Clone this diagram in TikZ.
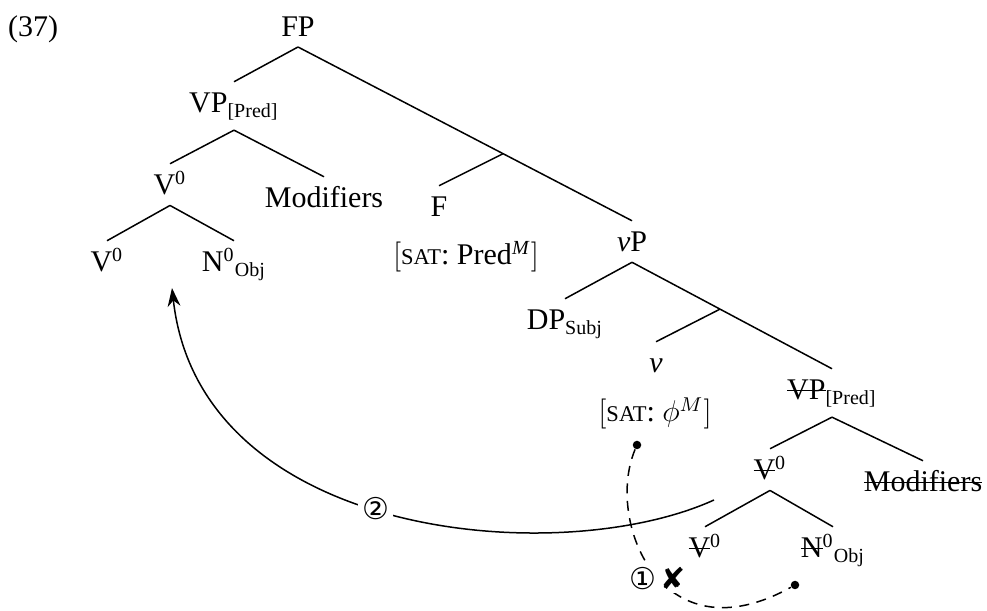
\documentclass[tikz,border=0pt]{standalone}
\usepackage{fontspec}
\setmainfont{Liberation Serif}
\newfontfamily\symbfont{DejaVu Sans}
\usetikzlibrary{positioning,calc,arrows.meta}
\newcommand{\satf}{{\fontsize{9}{10}\selectfont SAT}}
\newsavebox{\strkbox}
\newcommand{\strk}[1]{\sbox{\strkbox}{#1}\rlap{\rule[0.3em]{\wd\strkbox}{0.5pt}}\usebox{\strkbox}}

\begin{document}
\begin{tikzpicture}[
      x=0.4pt, y=-0.4pt,
      font=\fontsize{12}{14}\selectfont,
      tn/.style={anchor=base, inner sep=0pt, outer sep=4pt, text height=8.5pt}, % tree nodes
      feat/.style={anchor=base, inner sep=0pt, outer sep=2pt},
      branch/.style={line width=0.6pt},
      dot/.style={circle, fill, inner sep=0pt, minimum size=3.4pt},
      lbl/.style={fill=white, inner sep=1.5pt, font=\symbfont\fontsize{12}{14}\selectfont}
  ]
      \useasboundingbox (0,0) rectangle (987,611);

      % Nodes - upper tree
      \node (ex) [anchor=base] at (33,37) {(37)};
      \node (fp) [tn] at (298,37) {FP};
      \node (vpp) [tn] at (234,113) {VP\textsubscript{[Pred]}};
      \node (v0a) [tn] at (170,195) {V\textsuperscript{0}};
      \node (mod) [tn] at (324,208) {Modifiers};
      \node (v0b) [tn] at (107,272) {V\textsuperscript{0}};
      \node (n0) [tn] at (234,272) {N\textsuperscript{0}\textsubscript{Obj}};
      \node (f) [tn] at (439,217) {F};
      \node (fsat) [feat] at (466,265) {$\bigl[$\satf: Pred\textsuperscript{\textit{M}}$\bigr]$};
      \node (vp) [tn] at (632,252) {\textit{v}P};
      \node (dp) [tn] at (565,330) {DP\textsubscript{Subj}};
      \node (nu) [tn] at (656,373) {\textit{v}};
      \node (phisat) [feat] at (655,422) {$\bigl[$\satf: $\phi^{M}\bigr]$};

      % Nodes - lower copy (struck out)
      \node (vps) [tn] at (832,400) {\strk{VP}\textsubscript{[Pred]}};
      \node (v0s) [tn] at (770,480) {\strk{V}\textsuperscript{0}};
      \node (mods) [tn] at (923,492) {\strk{Modifiers}};
      \node (v0bs) [tn] at (705,558) {\strk{V}\textsuperscript{0}};
      \node (n0s) [tn] at (833,558) {\strk{N}\textsuperscript{0}\textsubscript{Obj}};

      % Branches
      \foreach \p/\c in {fp/vpp, fp/vp, vpp/v0a, vpp/mod, v0a/v0b, v0a/n0,
                         vp/dp, vp/vps, vps/v0s, vps/mods, v0s/v0bs, v0s/n0s}
          \draw[branch] (\p.south) -- (\c.north);
      \draw[branch] ($(fp.south)!0.614!(vp.north)$) -- (f.north);
      \draw[branch] ($(vp.south)!0.44!(vps.north)$) -- (nu.north);

      % Agree (1), failing
      \node (p1) [dot] at (637,445) {};
      \node (p2) [dot] at (795,585) {};
      \draw[line width=0.6pt, dash pattern=on 4pt off 3pt] (p1) .. controls (605,520) and (660,660) .. node[lbl, pos=0.53] (one) {①\,✘} (p2);

      % Head movement (2)
      \coordinate (mvs) at (714,500);
      \coordinate (mve) at (172,288);
      \draw[line width=0.6pt, -{Stealth[length=2.6mm, width=1.8mm]}] (mvs) .. controls (560,570) and (200,540) .. node[lbl, pos=0.53] (two) {②} (mve);
  \end{tikzpicture}
\end{document}
